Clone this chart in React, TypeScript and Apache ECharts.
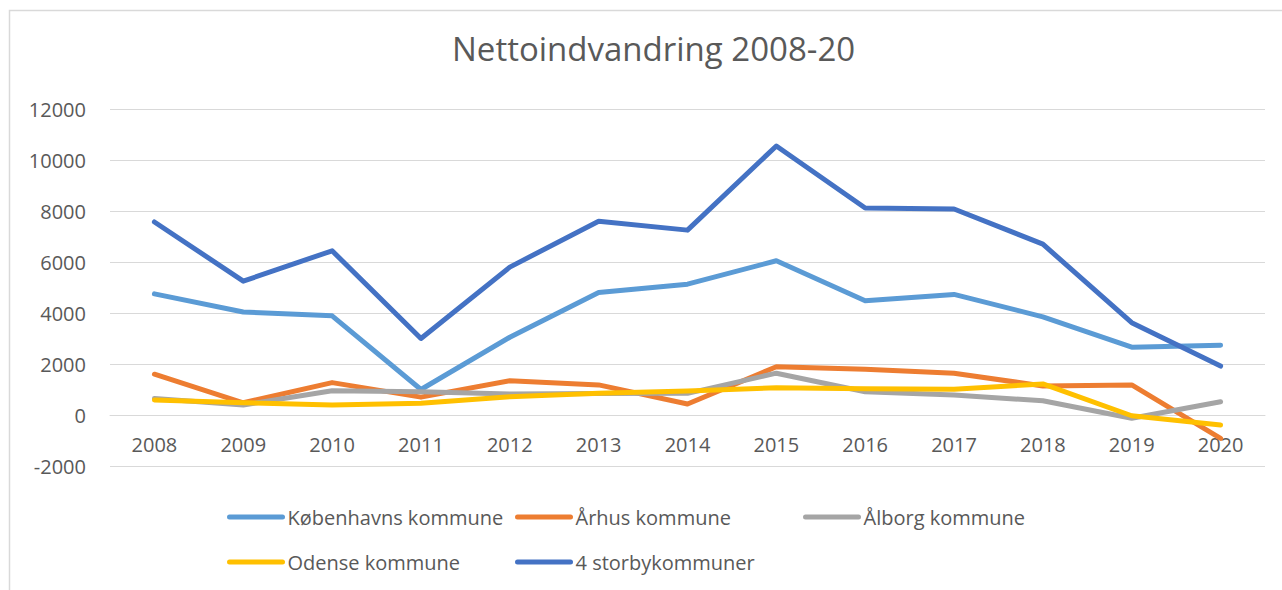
import React, { useEffect, useRef } from "react";
import * as echarts from "echarts";

const years = ["2008", "2009", "2010", "2011", "2012", "2013", "2014", "2015", "2016", "2017", "2018", "2019", "2020"];
const koebenhavn = [4750, 4040, 3890, 1000, 3050, 4800, 5130, 6050, 4480, 4730, 3850, 2660, 2740];
const aarhus = [1600, 480, 1270, 700, 1340, 1180, 430, 1890, 1790, 1640, 1140, 1180, -920];
const aalborg = [650, 390, 950, 910, 820, 840, 850, 1640, 910, 780, 560, -130, 520];
const odense = [590, 480, 390, 460, 720, 850, 940, 1070, 1030, 1010, 1220, -30, -390];
const storby = [7570, 5250, 6440, 3000, 5800, 7600, 7250, 10550, 8120, 8080, 6700, 3620, 1920];

const seriesNames = ["Københavns kommune", "Århus kommune", "Ålborg kommune", "Odense kommune", "4 storbykommuner"];
const seriesData = [koebenhavn, aarhus, aalborg, odense, storby];
const seriesColors = ["#5B9BD5", "#ED7D31", "#A5A5A5", "#FFC000", "#4472C4"];

const FONT = "'Open Sans', sans-serif";
const TEXT_COLOR = "#595959";

export default function App() {
  const ref = useRef<HTMLDivElement>(null);

  useEffect(() => {
    if (!ref.current) return;
    const chart = echarts.init(ref.current, null, { renderer: "svg" });

    const legendPos = [
      { left: 227, top: 507 },
      { left: 515, top: 507 },
      { left: 803, top: 507 },
      { left: 227, top: 552 },
      { left: 515, top: 552 },
    ];

    const option: any = {
      animation: false,
      backgroundColor: "#ffffff",
      textStyle: { fontFamily: FONT },
      title: {
        text: "Nettoindvandring 2008-20",
        left: 452,
        top: 32,
        padding: 0,
        textStyle: { fontFamily: FONT, fontSize: 33, fontWeight: "normal", color: TEXT_COLOR },
      },
      grid: { left: 110, right: 17, top: 109, bottom: 124, containLabel: false },
      legend: seriesNames.map((name, i) => ({
        data: [name],
        left: legendPos[i].left,
        top: legendPos[i].top,
        itemWidth: 53,
        itemHeight: 5,
        padding: 0,
        selectedMode: false,
        lineStyle: { width: 5, cap: "round", color: seriesColors[i] },
        itemStyle: { opacity: 0, borderWidth: 0 },
        textStyle: { fontFamily: FONT, fontSize: 20, color: TEXT_COLOR },
      })),
      xAxis: {
        type: "category",
        data: years,
        boundaryGap: true,
        position: "bottom",
        offset: -51,
        axisLine: { show: true, onZero: false, lineStyle: { color: "#d9d9d9", width: 1 } },
        axisTick: { show: false },
        axisLabel: { margin: 19, fontFamily: FONT, fontSize: 20, color: TEXT_COLOR },
        splitLine: { show: false },
      },
      yAxis: {
        type: "value",
        min: -2000,
        max: 12000,
        interval: 2000,
        axisLine: { show: false },
        axisTick: { show: false },
        axisLabel: {
          margin: 24,
          fontFamily: FONT,
          fontSize: 20,
          color: TEXT_COLOR,
          formatter: (v: number) => String(v),
        },
        splitLine: { lineStyle: { color: "#d9d9d9", width: 1 } },
      },
      series: seriesNames.map((name, i) => ({
        name,
        type: "line",
        data: seriesData[i],
        symbol: "none",
        showSymbol: false,
        smooth: false,
        color: seriesColors[i],
        lineStyle: { color: seriesColors[i], width: 5, cap: "round", join: "round" },
        z: 2 + i,
      })),
      graphic: [
        {
          type: "polyline",
          shape: { points: [[9.5, 590], [9.5, 10.5], [1282, 10.5]] },
          style: { stroke: "#d9d9d9", lineWidth: 1.5, fill: "none" },
          silent: true,
        },
      ],
    };

    chart.setOption(option);
    return () => chart.dispose();
  }, []);

  return (
    <div
      ref={ref}
      style={{ position: "absolute", left: 0, top: 0, width: 1282, height: 590 }}
    />
  );
}
